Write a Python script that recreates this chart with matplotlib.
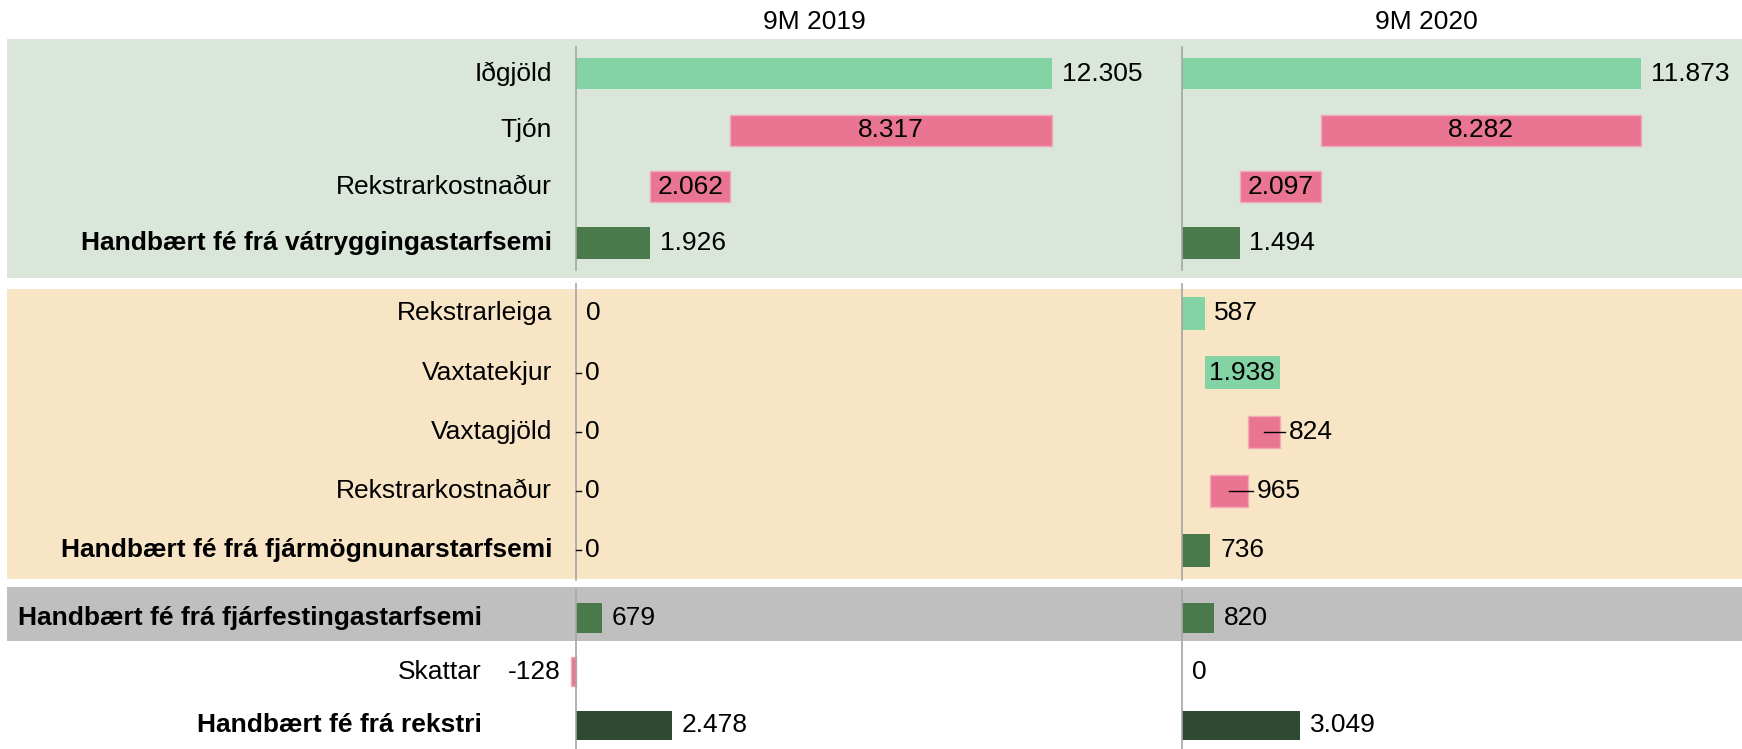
import matplotlib.pyplot as plt
from matplotlib.patches import Rectangle

plt.rcParams['font.family'] = ['Liberation Sans', 'DejaVu Sans']

periods = ['9M 2019', '9M 2020']
categories = ['Iðgjöld', 'Tjón', 'Rekstrarkostnaður',
              'Handbært fé frá vátryggingastarfsemi',
              'Rekstrarleiga', 'Vaxtatekjur', 'Vaxtagjöld', 'Rekstrarkostnaður',
              'Handbært fé frá fjármögnunarstarfsemi',
              'Handbært fé frá fjárfestingastarfsemi', 'Skattar',
              'Handbært fé frá rekstri']
kinds = ['inc', 'dec', 'dec', 'total', 'inc', 'inc', 'dec', 'dec', 'total',
         'total', 'single', 'final']
groups = [0, 0, 0, 0, 1, 1, 1, 1, 1, 2, 2, 2]
values_2019 = [12305, 8317, 2062, 1926, 0, 0, 0, 0, 0, 679, -128, 2478]
values_2020 = [11873, 8282, 2097, 1494, 587, 1938, 824, 965, 736, 820, 0, 3049]

# label placement per cell (out / in / lead / left)
place_2019 = ['out', 'in', 'in', 'out', 'out', 'lead', 'lead', 'lead', 'lead',
              'out', 'left', 'out']
place_2020 = ['out', 'in', 'in', 'out', 'out', 'in', 'lead', 'lead', 'out',
              'out', 'out', 'out']

colors = {'inc': '#83D3A4', 'dec': '#E97592', 'total': '#4A7A4C',
          'single': '#E97592', 'final': '#2E4A33'}

W, H = 1742, 749
K = 0.03867          # pixels per unit
FS = 19

# layout (pixels)
group_first = [73.8, 313.3, 618.0]
group_step = [56.4, 59.25, 53.65]
label_right = [552, 552, 482]
bands = [(39, 278, '#DAE6DA'), (289, 579, '#F8E5C5'), (587, 641, '#BFBFBF')]
axis_lines = [(46.7, 270), (284, 580), (590, 749)]
zero_px = [576, 1182]
panel_px = [(560, 1170), (1166, 1742)]
title_px = [814, 1426]

rows_y = []
for g in range(3):
    idx = [i for i, gg in enumerate(groups) if gg == g]
    for j, i in enumerate(idx):
        rows_y.append(group_first[g] + j * group_step[g])
heights = [0.55 * group_step[g] for g in groups]


def fmt(v):
    return f'{v:,}'.replace(',', '.')


def spans(values):
    out = []
    run, prev = 0, None
    for v, k, g in zip(values, kinds, groups):
        if g != prev:
            run, prev = 0, g
        if k == 'inc':
            out.append((run, run + v))
            run += v
        elif k == 'dec':
            out.append((run - v, run))
            run -= v
        else:
            out.append((min(0, v), max(0, v)))
            run = v
    return out


fig = plt.figure(figsize=(W / 100, H / 100), dpi=100)
bg = fig.add_axes([0, 0, 1, 1], zorder=0)
bg.set_xlim(0, W)
bg.set_ylim(H, 0)
bg.axis('off')
for y0, y1, c in bands:
    bg.add_patch(Rectangle((7, y0), W - 7, y1 - y0, color=c, lw=0))

for y, cat, k, g in zip(rows_y, categories, kinds, groups):
    bg.text(label_right[g], y, cat, ha='right', va='center', fontsize=FS,
            fontweight='bold' if k in ('total', 'final') else 'normal')

for p, (values, place) in enumerate([(values_2019, place_2019),
                                     (values_2020, place_2020)]):
    px0, px1 = panel_px[p]
    ax = fig.add_axes([px0 / W, 0, (px1 - px0) / W, 1], zorder=1)
    ax.patch.set_alpha(0)
    ax.axis('off')
    ax.set_xlim(-(zero_px[p] - px0) / K, (px1 - zero_px[p]) / K)
    ax.set_ylim(H, 0)
    bg.text(title_px[p], 21.7, periods[p], ha='center', va='center', fontsize=FS)

    for y0, y1 in axis_lines:
        ax.plot([0, 0], [y0, y1], color='#A6A6A6', lw=1.2, zorder=3,
                clip_on=False)

    sp = spans(values)
    for i, ((a, b), v, k, pl) in enumerate(zip(sp, values, kinds, place)):
        y, h = rows_y[i], heights[i]
        if b - a > 0:
            ec = '#F3A9BA' if k in ('dec', 'single') else 'none'
            ax.barh(y, b - a, left=a, height=h, color=colors[k],
                    edgecolor=ec, lw=1, zorder=2)
        txt = fmt(v)
        if pl == 'in':
            ax.text((a + b) / 2, y, txt, ha='center', va='center',
                    fontsize=FS, zorder=4)
        elif pl == 'left':
            ax.annotate(txt, (a, y), xytext=(-7.2, 0), textcoords='offset points',
                        ha='right', va='center', fontsize=FS, zorder=4)
        elif pl == 'lead':
            ax.plot([(a + b) / 2, b + 5 / K], [y, y], color='black', lw=1,
                    zorder=4)
            ax.annotate(txt, (b + 5 / K, y), xytext=(3, 0),
                        textcoords='offset points', ha='left', va='center',
                        fontsize=FS, zorder=4)
        else:
            ax.annotate(txt, (b, y), xytext=(7, 0), textcoords='offset points',
                        ha='left', va='center', fontsize=FS, zorder=4)

fig.savefig('out.png', dpi=100)
